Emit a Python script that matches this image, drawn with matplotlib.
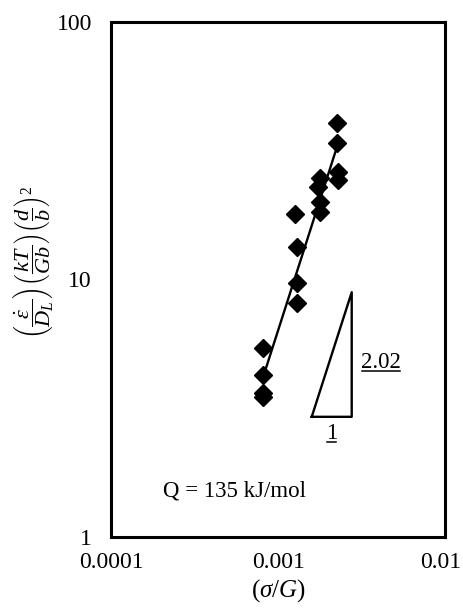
import numpy as np
import matplotlib
matplotlib.use("Agg")
import matplotlib.pyplot as plt
from matplotlib.lines import Line2D
from matplotlib.transforms import ScaledTranslation
from matplotlib.ticker import FixedLocator, FixedFormatter, NullLocator

plt.rcParams['font.family'] = ['Liberation Serif', 'DejaVu Serif']
plt.rcParams['mathtext.fontset'] = 'custom'
plt.rcParams['mathtext.rm'] = 'Liberation Serif'
plt.rcParams['mathtext.it'] = 'Liberation Serif:italic'
plt.rcParams['mathtext.bf'] = 'Liberation Serif:bold'

# normalised stress vs normalised strain rate
stress = [0.00224, 0.00224, 0.00229, 0.00229, 0.00178, 0.00174, 0.00178, 0.00178,
          0.00126, 0.00129, 0.00129, 0.00129, 0.000813, 0.000813, 0.000813, 0.000813]
rate = [40.4, 34.0, 26.2, 24.3, 24.7, 22.9, 20.0, 18.3,
        17.9, 13.3, 9.7, 8.1, 5.4, 4.25, 3.62, 3.49]

exponent = 2.02
fit_ref_x = 0.00224
fit_ref_y = 32.4

x_ticks = [0.0001, 0.001, 0.01]
x_tick_labels = ['0.0001', '0.001', '0.01']
y_ticks = [1, 10, 100]
y_tick_labels = ['1', '10', '100']

# slope triangle corners (bottom-left x, bottom-right x, base y)
tri_x0, tri_x1, tri_y0 = 0.001588, 0.002758, 2.92

fig = plt.figure(figsize=(4.63, 6.11), dpi=100)
ax = fig.add_axes([0.2408, 0.1219, 0.7203, 0.842])
ax.set_xscale('log')
ax.set_yscale('log')
ax.set_xlim(0.0001, 0.01)
ax.set_ylim(1, 100)

ax.plot(stress, rate, linestyle='none', marker='D', markersize=9.5,
        color='black', zorder=3)

# power-law trendline over the data range
xs = np.array([min(stress), max(stress)])
ax.plot(xs, fit_ref_y * (xs / fit_ref_x) ** exponent, color='black', lw=1.7)

tri_y1 = tri_y0 * (tri_x1 / tri_x0) ** exponent
ax.plot([tri_x0, tri_x1, tri_x1, tri_x0], [tri_y0, tri_y0, tri_y1, tri_y0],
        color='black', lw=1.7)
run_lbl = ax.text(np.sqrt(tri_x0 * tri_x1) * 1.0, tri_y0 * 0.95, '1',
                  ha='center', va='top', fontsize=16.5)
rise_lbl = ax.text(tri_x1 * 1.14, np.sqrt(tri_y0 * tri_y1) * 0.93, '2.02',
                   ha='left', va='center', fontsize=16.5)

ax.text(0.000205, 1.5, 'Q = 135 kJ/mol', fontsize=16.5, ha='left', va='center')

ax.xaxis.set_major_locator(FixedLocator(x_ticks))
ax.xaxis.set_major_formatter(FixedFormatter(x_tick_labels))
ax.yaxis.set_major_locator(FixedLocator(y_ticks))
ax.yaxis.set_major_formatter(FixedFormatter(y_tick_labels))
ax.xaxis.set_minor_locator(NullLocator())
ax.yaxis.set_minor_locator(NullLocator())
ax.tick_params(axis='both', length=0, labelsize=17)
ax.tick_params(axis='x', pad=11)
ax.tick_params(axis='y', pad=14)

for s in ax.spines.values():
    s.set_linewidth(2.2)

ax.set_xlabel(r'$(\sigma/G)$', fontsize=18, labelpad=3)
ax.set_ylabel(r'$\left(\dfrac{\dot{\varepsilon}}{D_L}\right)\left(\dfrac{kT}{Gb}\right)\left(\dfrac{d}{b}\right)^2$',
              fontsize=16)
ax.yaxis.set_label_coords(-0.17, 0.533)

# last x tick label sits a little inside the figure edge
fig.canvas.draw()
last = ax.get_xticklabels()[-1]
last.set_transform(last.get_transform() + ScaledTranslation(-4 / 100, 0, fig.dpi_scale_trans))

# underline the slope labels
r = fig.canvas.get_renderer()
for t in (run_lbl, rise_lbl):
    bb = t.get_window_extent(r)
    y = bb.y0 + 2
    fig.add_artist(Line2D([bb.x0 + 1, bb.x1 - 1], [y, y], color='black', lw=1.1,
                          transform=None))

fig.savefig('out.png', dpi=100)
